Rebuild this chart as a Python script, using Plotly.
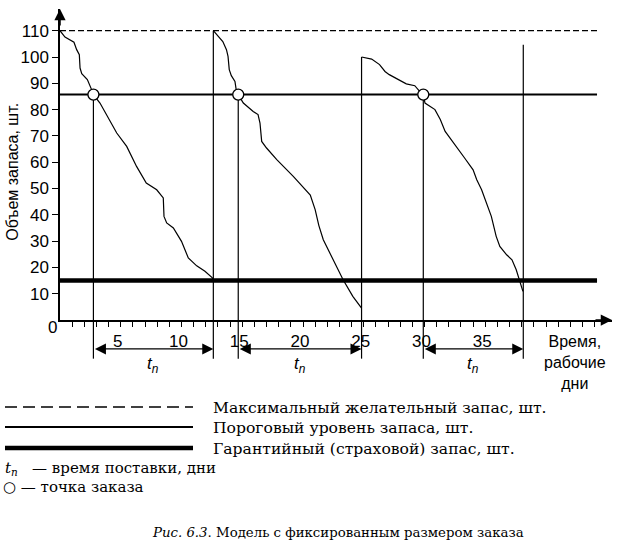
import plotly.graph_objects as go

# ---------------- data ----------------
# stock level curves (x = working days, y = units)
c1_x = [0, 0.41, 1.15, 1.37, 1.59, 1.65, 1.79, 2.25, 2.6, 2.75, 3.29, 4.67, 5.49, 6.3, 7.1, 7.96, 8.5,
        8.56, 8.78, 9.33, 10.0, 10.56, 11.25, 11.93, 12.54, 12.62]
c1_y = [110, 107.6, 105.6, 102.8, 100.9, 95.8, 93.7, 91.4, 87.6, 85.7, 82.5, 71.1, 66, 58.4, 52.1, 49.5, 46.4,
        39.4, 36.9, 35.0, 29.9, 23.6, 20.6, 18.5, 16.0, 15.3]
c2_x = [12.62, 12.9, 13.4, 13.7, 13.83, 13.93, 14.1, 14.4, 14.5, 14.67, 15.09, 15.9, 16.3, 16.46, 16.6, 17.0,
        17.84, 19.2, 20.6, 21.0, 21.3, 21.67, 22.0, 23.3, 24.1, 24.82]
c2_y = [110, 108.5, 105.9, 102.8, 100.2, 95.2, 92.9, 90.7, 87.6, 85.7, 82.5, 79.3, 78.1, 74.9, 67.9, 65.4,
        61.0, 54.6, 47.5, 42.0, 36.0, 30.5, 27.5, 15.3, 9.0, 4.5]
c3_x = [24.82, 25.65, 26.3, 26.75, 27.1, 28.0, 28.5, 29.2, 29.6, 29.9, 30.04, 30.86, 31.3, 31.7, 32.37, 33.3,
        34.0, 34.3, 34.7, 35.5, 35.9, 36.2, 36.76, 37.2, 37.55, 38.1]
c3_y = [100, 99.2, 97.1, 94.5, 93.3, 91.0, 89.8, 89.1, 86.9, 85.7, 82.5, 80.0, 76.2, 71.7, 67.3, 61.6,
        57.1, 53.3, 49.5, 39.4, 31.8, 28.0, 24.8, 22.9, 19.1, 10.9]

max_level = 110          # максимальный желательный запас
reorder_level = 85.7     # пороговый уровень
safety_level = 15        # гарантийный запас
line_end_x = 44.2

order_days = [2.75, 14.67, 29.9]        # точки заказа
delivery_days = [12.62, 24.82, 38.13]   # поставки
delivery_tops = [110, 100, 104.7]
below_axis_y = -14.7
arrow_y = -11
tn_label_y = -17.2

y_ticks = [10, 20, 30, 40, 50, 60, 70, 80, 90, 100, 110]
x_tick_vals = list(range(1, 45))
x_tick_text = [str(v) if (v % 5 == 0 and v <= 35) else "" for v in x_tick_vals]

y_title = "Объем запаса, шт."
x_title = "Время,<br>рабочие<br>дни"
legend_texts = ["Максимальный желательный запас, шт.",
                "Пороговый уровень запаса, шт.",
                "Гарантийный (страховой) запас, шт."]
tn_text = "<i>t</i><sub><i>n</i></sub>"
caption = "<i>Рис. 6.3</i>. Модель с фиксированным размером заказа"

# ---------------- geometry ----------------
W, H = 623, 547
ML, MR, MT, MB = 60, 11, 9, 148
plot_h = H - MT - MB          # 390
lower_h = 79
ppu_y = 2.63
y_top = (plot_h - lower_h) / ppu_y
y_bot = -lower_h / ppu_y
split = lower_h / plot_h
plot_w = W - ML - MR
x_max = plot_w / 12.15

def px2paper_x(px):
    return (px - ML) / plot_w

def px2paper_y(py):
    return (H - MB - py) / plot_h

SANS = "Liberation Sans, Arial, sans-serif"
SERIF = "DejaVu Serif, serif"
BLACK = "black"

fig = go.Figure()

# horizontal levels
fig.add_trace(go.Scatter(x=[0, line_end_x], y=[max_level, max_level], mode="lines",
                         line=dict(color=BLACK, width=1.3, dash="6px,3px"), xaxis="x", yaxis="y"))
fig.add_trace(go.Scatter(x=[0, line_end_x], y=[reorder_level, reorder_level], mode="lines",
                         line=dict(color=BLACK, width=2), xaxis="x", yaxis="y"))
fig.add_trace(go.Scatter(x=[0, line_end_x], y=[safety_level, safety_level], mode="lines",
                         line=dict(color=BLACK, width=4.5), xaxis="x", yaxis="y"))

# vertical order / delivery lines (upper and lower subplot parts)
for xo in order_days:
    fig.add_trace(go.Scatter(x=[xo, xo], y=[reorder_level, 0], mode="lines",
                             line=dict(color=BLACK, width=1.2), xaxis="x", yaxis="y"))
    fig.add_trace(go.Scatter(x=[xo, xo], y=[0, below_axis_y], mode="lines",
                             line=dict(color=BLACK, width=1.2), xaxis="x2", yaxis="y2"))
for xd, top in zip(delivery_days, delivery_tops):
    fig.add_trace(go.Scatter(x=[xd, xd], y=[top, 0], mode="lines",
                             line=dict(color=BLACK, width=1.2), xaxis="x", yaxis="y"))
    fig.add_trace(go.Scatter(x=[xd, xd], y=[0, below_axis_y], mode="lines",
                             line=dict(color=BLACK, width=1.2), xaxis="x2", yaxis="y2"))

# stock curves
for cx, cy in [(c1_x, c1_y), (c2_x, c2_y), (c3_x, c3_y)]:
    fig.add_trace(go.Scatter(x=cx, y=cy, mode="lines", line=dict(color=BLACK, width=1.2),
                             xaxis="x", yaxis="y"))

# order points
fig.add_trace(go.Scatter(x=order_days, y=[reorder_level] * len(order_days), mode="markers",
                         marker=dict(size=11, color="white", line=dict(color=BLACK, width=1.3)),
                         xaxis="x", yaxis="y", cliponaxis=False))

annotations = []
# lead time arrows and labels
for xo, xd in zip(order_days, delivery_days):
    annotations.append(dict(x=xd, y=arrow_y, ax=xo, ay=arrow_y, xref="x2", yref="y2",
                            axref="x2", ayref="y2", text="", showarrow=True, arrowhead=2,
                            arrowside="end+start", arrowsize=1.7, arrowwidth=1.3,
                            arrowcolor=BLACK, standoff=0, startstandoff=0))
    annotations.append(dict(x=(xo + xd) / 2, y=tn_label_y, xref="x2", yref="y2", text=tn_text,
                            showarrow=False, font=dict(family=SANS, size=17, color=BLACK)))

# axis arrowheads
annotations.append(dict(x=x_max, y=0, ax=-18, ay=0, xref="x", yref="y", text="", showarrow=True,
                        arrowhead=2, arrowsize=1.5, arrowwidth=1.5, arrowcolor=BLACK, standoff=0))
annotations.append(dict(x=0, y=y_top, ax=0, ay=18, xref="x", yref="y", text="", showarrow=True,
                        arrowhead=2, arrowsize=1.5, arrowwidth=1.5, arrowcolor=BLACK, standoff=0))
# origin label
annotations.append(dict(x=0, y=0, xref="x", yref="y", text="0", showarrow=False, xshift=-8, yshift=-7,
                        xanchor="center", yanchor="middle",
                        font=dict(family=SANS, size=17, color=BLACK)))
# axis titles
annotations.append(dict(x=px2paper_x(13), y=56.4, xref="paper", yref="y", text=y_title, textangle=-90,
                        xanchor="center", yanchor="middle",
                        showarrow=False, font=dict(family=SANS, size=16, color=BLACK)))
annotations.append(dict(x=42.4, y=-16.3, xref="x2", yref="y2", text=x_title, showarrow=False,
                        xanchor="center", yanchor="middle",
                        align="center", font=dict(family=SANS, size=16, color=BLACK)))

# legend lines (paper coords)
shapes = []
leg_rows_px = [407, 427, 448]
leg_styles = [dict(width=1.3, dash="12px,6px"), dict(width=2), dict(width=4.5)]
for py, st in zip(leg_rows_px, leg_styles):
    shapes.append(dict(type="line", xref="paper", yref="paper", x0=px2paper_x(5), x1=px2paper_x(193),
                       y0=px2paper_y(py), y1=px2paper_y(py), line=dict(color=BLACK, **st)))
for py, txt in zip(leg_rows_px, legend_texts):
    annotations.append(dict(x=px2paper_x(211), y=px2paper_y(py + 1), xref="paper", yref="paper",
                            text=txt, showarrow=False, xanchor="left", yanchor="middle",
                            font=dict(family=SERIF, size=15.6, color=BLACK)))
annotations.append(dict(x=px2paper_x(3), y=px2paper_y(468), xref="paper", yref="paper",
                        text="<i>t</i><sub><i>n</i></sub>\u00a0\u00a0\u00a0— время поставки, дни", showarrow=False,
                        xanchor="left", yanchor="middle", font=dict(family=SERIF, size=15, color=BLACK)))
annotations.append(dict(x=px2paper_x(1), y=px2paper_y(487), xref="paper", yref="paper",
                        text="○ — точка заказа", showarrow=False,
                        xanchor="left", yanchor="middle", font=dict(family=SERIF, size=15, color=BLACK)))
annotations.append(dict(x=px2paper_x(338), y=px2paper_y(532), xref="paper", yref="paper",
                        text=caption, showarrow=False, xanchor="center", yanchor="middle",
                        font=dict(family=SERIF, size=13.3, color=BLACK)))

fig.update_layout(
    width=W, height=H, autosize=False,
    margin=dict(l=ML, r=MR, t=MT, b=MB, pad=0),
    paper_bgcolor="white", plot_bgcolor="white",
    showlegend=False,
    xaxis=dict(domain=[0, 1], anchor="y", range=[0, x_max], showgrid=False, zeroline=False,
               showline=True, linecolor=BLACK, linewidth=1.5, ticks="outside", ticklen=5,
               tickwidth=1.2, tickcolor=BLACK, tickmode="array", tickvals=x_tick_vals,
               ticktext=x_tick_text, ticklabelshift=-3,
               tickfont=dict(family=SANS, size=17, color=BLACK)),
    yaxis=dict(domain=[split, 1], anchor="x", range=[0, y_top], showgrid=False, zeroline=False,
               showline=True, linecolor=BLACK, linewidth=1.5, ticks="outside", ticklen=6,
               tickwidth=1.2, tickcolor=BLACK, tickmode="array", tickvals=y_ticks,
               tickfont=dict(family=SANS, size=17, color=BLACK)),
    xaxis2=dict(domain=[0, 1], anchor="y2", matches="x", visible=False, range=[0, x_max]),
    yaxis2=dict(domain=[0, split], anchor="x2", range=[y_bot, 0], visible=False),
    annotations=annotations,
    shapes=shapes,
)

fig.write_html("out.html")
